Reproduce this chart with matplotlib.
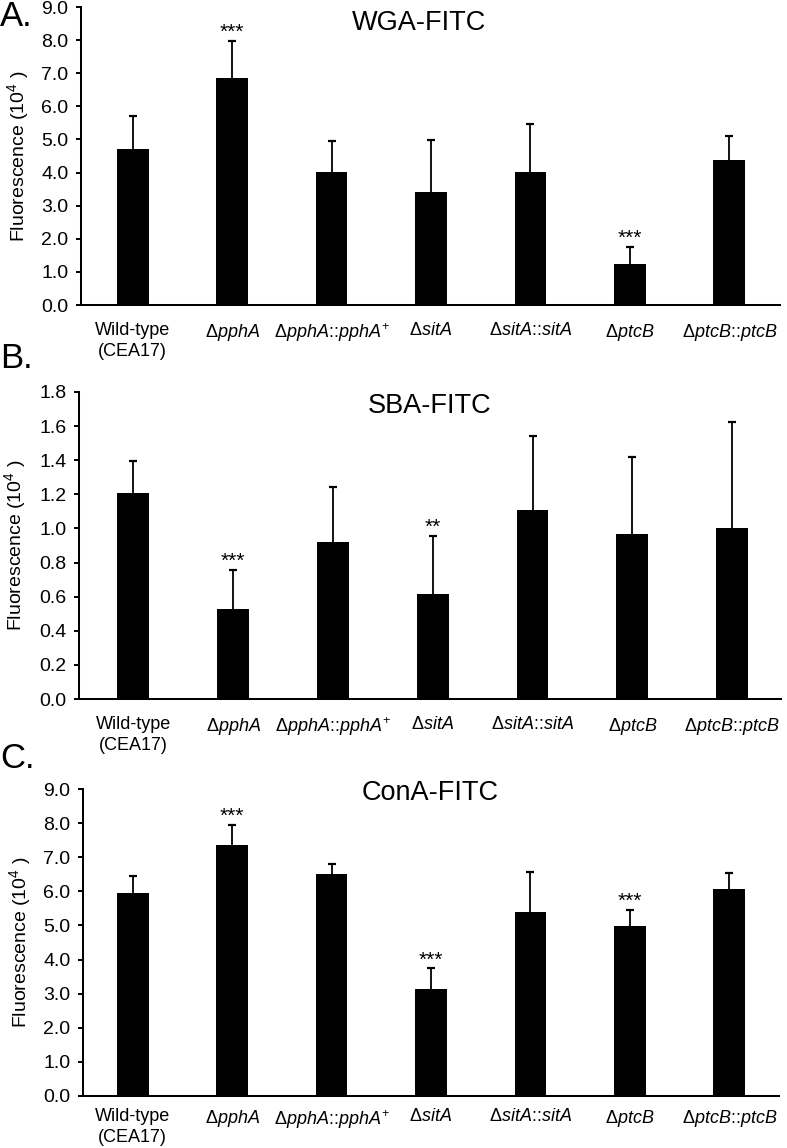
import matplotlib
matplotlib.use('Agg')
import matplotlib.pyplot as plt
import numpy as np

plt.rcParams['font.family'] = ['Liberation Sans', 'DejaVu Sans']
plt.rcParams['mathtext.fontset'] = 'custom'
plt.rcParams['mathtext.rm'] = 'Liberation Sans'
plt.rcParams['mathtext.it'] = 'Liberation Sans:italic'

# strains (x categories)
strains = [
    'Wild-type\n(CEA17)',
    'Δ$\\mathit{pphA}$',
    'Δ$\\mathit{pphA}$::$\\mathit{pphA}^{+}$',
    'Δ$\\mathit{sitA}$',
    'Δ$\\mathit{sitA}$::$\\mathit{sitA}$',
    'Δ$\\mathit{ptcB}$',
    'Δ$\\mathit{ptcB}$::$\\mathit{ptcB}$',
]

# A. WGA-FITC
wga_mean = [4.72, 6.85, 4.02, 3.40, 4.02, 1.23, 4.38]
wga_sd = [0.98, 1.13, 0.92, 1.57, 1.46, 0.52, 0.73]
wga_sig = ['', '***', '', '', '', '***', '']

# B. SBA-FITC
sba_mean = [1.205, 0.53, 0.92, 0.618, 1.109, 0.968, 1.002]
sba_sd = [0.188, 0.227, 0.324, 0.34, 0.434, 0.45, 0.622]
sba_sig = ['', '***', '', '**', '', '', '']

# C. ConA-FITC
cona_mean = [5.96, 7.36, 6.51, 3.13, 5.40, 4.98, 6.07]
cona_sd = [0.49, 0.58, 0.29, 0.61, 1.18, 0.47, 0.47]
cona_sig = ['', '***', '', '***', '', '***', '']

W, H = 787, 1148
fig = plt.figure(figsize=(W / 100, H / 100), dpi=100)


def px_axes(left, top, right, bottom):
    return fig.add_axes([left / W, 1 - bottom / H, (right - left) / W, (bottom - top) / H])


panels = [
    # letter, letter y(px), title, title pos (axes), means, sd, sig, ymax, ticks,
    # box(px), xlim, x label pad
    ('A.', 17, 'WGA-FITC', (0.484, 0.946), wga_mean, wga_sd, wga_sig,
     9.0, np.arange(0, 9.01, 1.0), (81, 7, 780, 305), (-0.52, 6.51), 12),
    ('B.', 358, 'SBA-FITC', (0.499, 0.953), sba_mean, sba_sd, sba_sig,
     1.8, np.arange(0, 1.81, 0.2), (79, 392, 781, 699), (-0.545, 6.49), 12),
    ('C.', 759, 'ConA-FITC', (0.499, 0.987), cona_mean, cona_sd, cona_sig,
     9.0, np.arange(0, 9.01, 1.0), (83, 789, 779, 1096), (-0.5, 6.5), 8.5),
]

x = np.arange(len(strains))

for letter, ly, title, tpos, means, sd, sig, ymax, yticks, box, xlim, xpad in panels:
    ax = px_axes(*box)
    ax.bar(x, means, width=0.32, color='black', zorder=2)
    _, caps, _ = ax.errorbar(x, means, yerr=[np.zeros(len(sd)), sd], fmt='none',
                             ecolor='black', elinewidth=1.3, capsize=2.6,
                             capthick=1.6, zorder=1)
    caps[0].set_visible(False)  # no cap at the bar top
    for xi, m, s, lab in zip(x, means, sd, sig):
        if lab:
            ax.annotate(lab, (xi, m + s), xytext=(0, 6), textcoords='offset points',
                        ha='center', va='center', fontsize=15)
    ax.set_xlim(*xlim)
    ax.set_ylim(0, ymax)
    ax.set_yticks(yticks)
    ax.set_yticklabels(['%.1f' % t for t in yticks])
    ax.set_xticks(x)
    ax.set_xticklabels(strains, fontsize=13, linespacing=1.3)
    for side in ['top', 'right']:
        ax.spines[side].set_visible(False)
    for side in ['left', 'bottom']:
        ax.spines[side].set_linewidth(1.45)
    ax.tick_params(axis='y', direction='out', length=3.5, width=1.4, pad=5.5, labelsize=14)
    ax.tick_params(axis='x', length=0, pad=xpad)
    ax.set_ylabel('Fluorescence (10$^{4}$ )', fontsize=14)
    ax.yaxis.set_label_coords(-0.072, 0.5)
    ax.text(tpos[0], tpos[1], title, transform=ax.transAxes, ha='center', va='center',
            fontsize=19.5)
    fig.text(0.0, 1 - ly / H, letter, ha='left', va='center', fontsize=25)

fig.savefig('out.png', dpi=100)
